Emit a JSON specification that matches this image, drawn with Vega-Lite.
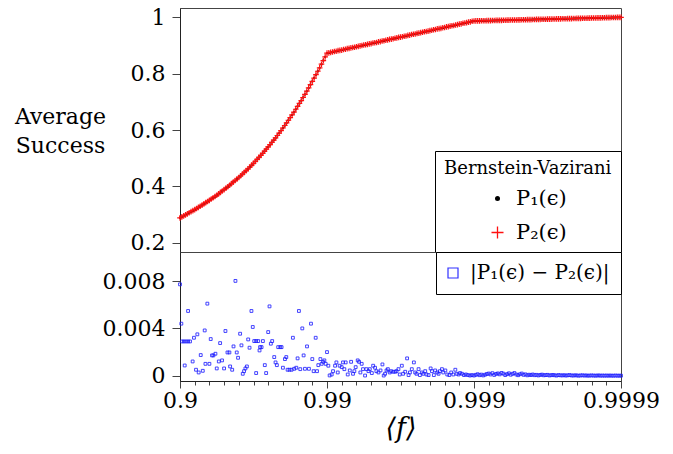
{
"$schema": "https://vega.github.io/schema/vega-lite/v6.json",
"autosize": {"type": "none"},
"padding": {"left": 180, "top": 8, "right": 493, "bottom": 446},
"background": "white",
"bounds": "flush",
"config": {
  "font": "DejaVu Serif",
  "view": {"stroke": "#444", "strokeWidth": 1},
  "axis": {"labelFont": "DejaVu Serif", "titleFont": "DejaVu Serif", "labelFontSize": 22, "labelColor": "black", "domainColor": "#222", "tickColor": "#444", "grid": false, "titleFontWeight": "normal", "titleColor": "black", "labelFlush": false, "labelOverlap": false, "labelBound": false},
  "legend": {"labelFont": "DejaVu Serif", "titleFont": "DejaVu Serif", "labelColor": "black", "titleColor": "black", "titleFontWeight": "normal"}
},
"datasets": {
"curve": [
{"k":1,"p1":0.289,"p2":0.289},{"k":1.0125,"p1":0.2925,"p2":0.2925},{"k":1.025,"p1":0.296,"p2":0.296},{"k":1.0375,"p1":0.2995,"p2":0.2995},{"k":1.05,"p1":0.303,"p2":0.303},{"k":1.0625,"p1":0.307,"p2":0.307},{"k":1.075,"p1":0.311,"p2":0.311},{"k":1.0875,"p1":0.3145,"p2":0.3145},{"k":1.1,"p1":0.318,"p2":0.318},{"k":1.1125,"p1":0.322,"p2":0.322},{"k":1.125,"p1":0.326,"p2":0.326},{"k":1.1375,"p1":0.33,"p2":0.33},{"k":1.15,"p1":0.334,"p2":0.334},{"k":1.1625,"p1":0.3385,"p2":0.3385},{"k":1.175,"p1":0.343,"p2":0.343},{"k":1.1875,"p1":0.347,"p2":0.347},{"k":1.2,"p1":0.351,"p2":0.351},{"k":1.2125,"p1":0.3555,"p2":0.3555},{"k":1.225,"p1":0.36,"p2":0.36},{"k":1.2375,"p1":0.3645,"p2":0.3645},{"k":1.25,"p1":0.369,"p2":0.369},{"k":1.2625,"p1":0.374,"p2":0.374},{"k":1.275,"p1":0.379,"p2":0.379},{"k":1.2875,"p1":0.384,"p2":0.384},{"k":1.3,"p1":0.389,"p2":0.389},{"k":1.3125,"p1":0.394,"p2":0.394},{"k":1.325,"p1":0.399,"p2":0.399},{"k":1.3375,"p1":0.4045,"p2":0.4045},{"k":1.35,"p1":0.41,"p2":0.41},{"k":1.3625,"p1":0.4155,"p2":0.4155},{"k":1.375,"p1":0.421,"p2":0.421},{"k":1.3875,"p1":0.4265,"p2":0.4265},{"k":1.4,"p1":0.432,"p2":0.432},{"k":1.4125,"p1":0.438,"p2":0.438},{"k":1.425,"p1":0.444,"p2":0.444},{"k":1.4375,"p1":0.45,"p2":0.45},{"k":1.45,"p1":0.456,"p2":0.456},{"k":1.4625,"p1":0.4625,"p2":0.4625},{"k":1.475,"p1":0.469,"p2":0.469},{"k":1.4875,"p1":0.4755,"p2":0.4755},{"k":1.5,"p1":0.482,"p2":0.482},{"k":1.5125,"p1":0.489,"p2":0.489},{"k":1.525,"p1":0.496,"p2":0.496},{"k":1.5375,"p1":0.503,"p2":0.503},{"k":1.55,"p1":0.51,"p2":0.51},{"k":1.5625,"p1":0.5175,"p2":0.5175},{"k":1.575,"p1":0.525,"p2":0.525},{"k":1.5875,"p1":0.5325,"p2":0.5325},{"k":1.6,"p1":0.54,"p2":0.54},{"k":1.6125,"p1":0.548,"p2":0.548},{"k":1.625,"p1":0.556,"p2":0.556},{"k":1.6375,"p1":0.564,"p2":0.564},{"k":1.65,"p1":0.572,"p2":0.572},{"k":1.6625,"p1":0.5805,"p2":0.5805},{"k":1.675,"p1":0.589,"p2":0.589},{"k":1.6875,"p1":0.598,"p2":0.598},{"k":1.7,"p1":0.607,"p2":0.607},{"k":1.7125,"p1":0.616,"p2":0.616},{"k":1.725,"p1":0.625,"p2":0.625},{"k":1.7375,"p1":0.6345,"p2":0.6345},{"k":1.75,"p1":0.644,"p2":0.644},{"k":1.7625,"p1":0.6535,"p2":0.6535},{"k":1.775,"p1":0.663,"p2":0.663},{"k":1.7875,"p1":0.6735,"p2":0.6735},{"k":1.8,"p1":0.684,"p2":0.684},{"k":1.8125,"p1":0.694,"p2":0.694},{"k":1.825,"p1":0.704,"p2":0.704},{"k":1.8375,"p1":0.715,"p2":0.715},{"k":1.85,"p1":0.726,"p2":0.726},{"k":1.8625,"p1":0.7375,"p2":0.7375},{"k":1.875,"p1":0.749,"p2":0.749},{"k":1.8875,"p1":0.7605,"p2":0.7605},{"k":1.9,"p1":0.772,"p2":0.772},{"k":1.9125,"p1":0.784,"p2":0.784},{"k":1.925,"p1":0.796,"p2":0.796},{"k":1.9375,"p1":0.808,"p2":0.808},{"k":1.95,"p1":0.82,"p2":0.82},{"k":1.9625,"p1":0.833,"p2":0.833},{"k":1.975,"p1":0.846,"p2":0.846},{"k":1.9875,"p1":0.859,"p2":0.859},{"k":2,"p1":0.872,"p2":0.872},
{"k":2.0125,"p1":0.873,"p2":0.873},{"k":2.025,"p1":0.875,"p2":0.875},{"k":2.0375,"p1":0.876,"p2":0.876},{"k":2.05,"p1":0.878,"p2":0.878},{"k":2.0625,"p1":0.879,"p2":0.879},{"k":2.075,"p1":0.881,"p2":0.881},{"k":2.0875,"p1":0.882,"p2":0.882},{"k":2.1,"p1":0.883,"p2":0.883},{"k":2.1125,"p1":0.885,"p2":0.885},{"k":2.125,"p1":0.886,"p2":0.886},{"k":2.1375,"p1":0.888,"p2":0.888},{"k":2.15,"p1":0.889,"p2":0.889},{"k":2.1625,"p1":0.891,"p2":0.891},{"k":2.175,"p1":0.892,"p2":0.892},{"k":2.1875,"p1":0.893,"p2":0.893},{"k":2.2,"p1":0.895,"p2":0.895},{"k":2.2125,"p1":0.896,"p2":0.896},{"k":2.225,"p1":0.898,"p2":0.898},{"k":2.2375,"p1":0.899,"p2":0.899},{"k":2.25,"p1":0.901,"p2":0.901},{"k":2.2625,"p1":0.902,"p2":0.902},{"k":2.275,"p1":0.903,"p2":0.903},{"k":2.2875,"p1":0.905,"p2":0.905},{"k":2.3,"p1":0.906,"p2":0.906},{"k":2.3125,"p1":0.908,"p2":0.908},{"k":2.325,"p1":0.909,"p2":0.909},{"k":2.3375,"p1":0.91,"p2":0.91},{"k":2.35,"p1":0.912,"p2":0.912},{"k":2.3625,"p1":0.913,"p2":0.913},{"k":2.375,"p1":0.915,"p2":0.915},{"k":2.3875,"p1":0.916,"p2":0.916},{"k":2.4,"p1":0.918,"p2":0.918},{"k":2.4125,"p1":0.919,"p2":0.919},{"k":2.425,"p1":0.921,"p2":0.921},{"k":2.4375,"p1":0.922,"p2":0.922},{"k":2.45,"p1":0.923,"p2":0.923},{"k":2.4625,"p1":0.925,"p2":0.925},{"k":2.475,"p1":0.926,"p2":0.926},{"k":2.4875,"p1":0.928,"p2":0.928},{"k":2.5,"p1":0.929,"p2":0.929},{"k":2.5125,"p1":0.93,"p2":0.93},{"k":2.525,"p1":0.932,"p2":0.932},{"k":2.5375,"p1":0.933,"p2":0.933},{"k":2.55,"p1":0.935,"p2":0.935},{"k":2.5625,"p1":0.936,"p2":0.936},{"k":2.575,"p1":0.938,"p2":0.938},{"k":2.5875,"p1":0.939,"p2":0.939},{"k":2.6,"p1":0.94,"p2":0.94},{"k":2.6125,"p1":0.942,"p2":0.942},{"k":2.625,"p1":0.943,"p2":0.943},{"k":2.6375,"p1":0.945,"p2":0.945},{"k":2.65,"p1":0.946,"p2":0.946},{"k":2.6625,"p1":0.948,"p2":0.948},{"k":2.675,"p1":0.949,"p2":0.949},{"k":2.6875,"p1":0.95,"p2":0.95},{"k":2.7,"p1":0.952,"p2":0.952},{"k":2.7125,"p1":0.953,"p2":0.953},{"k":2.725,"p1":0.955,"p2":0.955},{"k":2.7375,"p1":0.956,"p2":0.956},{"k":2.75,"p1":0.958,"p2":0.958},{"k":2.7625,"p1":0.959,"p2":0.959},{"k":2.775,"p1":0.96,"p2":0.96},{"k":2.7875,"p1":0.962,"p2":0.962},{"k":2.8,"p1":0.963,"p2":0.963},{"k":2.8125,"p1":0.965,"p2":0.965},{"k":2.825,"p1":0.966,"p2":0.966},{"k":2.8375,"p1":0.968,"p2":0.968},{"k":2.85,"p1":0.969,"p2":0.969},{"k":2.8625,"p1":0.97,"p2":0.97},{"k":2.875,"p1":0.972,"p2":0.972},{"k":2.8875,"p1":0.973,"p2":0.973},{"k":2.9,"p1":0.975,"p2":0.975},{"k":2.9125,"p1":0.976,"p2":0.976},{"k":2.925,"p1":0.978,"p2":0.978},{"k":2.9375,"p1":0.979,"p2":0.979},{"k":2.95,"p1":0.98,"p2":0.98},{"k":2.9625,"p1":0.982,"p2":0.982},{"k":2.975,"p1":0.983,"p2":0.983},{"k":2.9875,"p1":0.985,"p2":0.985},{"k":3,"p1":0.986,"p2":0.986},
{"k":3.0125,"p1":0.9862,"p2":0.9862},{"k":3.025,"p1":0.9863,"p2":0.9863},{"k":3.0375,"p1":0.9865,"p2":0.9865},{"k":3.05,"p1":0.9867,"p2":0.9867},{"k":3.0625,"p1":0.9868,"p2":0.9868},{"k":3.075,"p1":0.987,"p2":0.987},{"k":3.0875,"p1":0.9872,"p2":0.9872},{"k":3.1,"p1":0.9873,"p2":0.9873},{"k":3.1125,"p1":0.9875,"p2":0.9875},{"k":3.125,"p1":0.9876,"p2":0.9876},{"k":3.1375,"p1":0.9878,"p2":0.9878},{"k":3.15,"p1":0.988,"p2":0.988},{"k":3.1625,"p1":0.9881,"p2":0.9881},{"k":3.175,"p1":0.9883,"p2":0.9883},{"k":3.1875,"p1":0.9884,"p2":0.9884},{"k":3.2,"p1":0.9886,"p2":0.9886},{"k":3.2125,"p1":0.9888,"p2":0.9888},{"k":3.225,"p1":0.9889,"p2":0.9889},{"k":3.2375,"p1":0.9891,"p2":0.9891},{"k":3.25,"p1":0.9893,"p2":0.9893},{"k":3.2625,"p1":0.9894,"p2":0.9894},{"k":3.275,"p1":0.9896,"p2":0.9896},{"k":3.2875,"p1":0.9897,"p2":0.9897},{"k":3.3,"p1":0.9899,"p2":0.9899},{"k":3.3125,"p1":0.9901,"p2":0.9901},{"k":3.325,"p1":0.9902,"p2":0.9902},{"k":3.3375,"p1":0.9904,"p2":0.9904},{"k":3.35,"p1":0.9905,"p2":0.9905},{"k":3.3625,"p1":0.9907,"p2":0.9907},{"k":3.375,"p1":0.9909,"p2":0.9909},{"k":3.3875,"p1":0.991,"p2":0.991},{"k":3.4,"p1":0.9912,"p2":0.9912},{"k":3.4125,"p1":0.9914,"p2":0.9914},{"k":3.425,"p1":0.9915,"p2":0.9915},{"k":3.4375,"p1":0.9917,"p2":0.9917},{"k":3.45,"p1":0.9918,"p2":0.9918},{"k":3.4625,"p1":0.992,"p2":0.992},{"k":3.475,"p1":0.9922,"p2":0.9922},{"k":3.4875,"p1":0.9923,"p2":0.9923},{"k":3.5,"p1":0.9925,"p2":0.9925},{"k":3.5125,"p1":0.9927,"p2":0.9927},{"k":3.525,"p1":0.9928,"p2":0.9928},{"k":3.5375,"p1":0.993,"p2":0.993},{"k":3.55,"p1":0.9931,"p2":0.9931},{"k":3.5625,"p1":0.9933,"p2":0.9933},{"k":3.575,"p1":0.9935,"p2":0.9935},{"k":3.5875,"p1":0.9936,"p2":0.9936},{"k":3.6,"p1":0.9938,"p2":0.9938},{"k":3.6125,"p1":0.994,"p2":0.994},{"k":3.625,"p1":0.9941,"p2":0.9941},{"k":3.6375,"p1":0.9943,"p2":0.9943},{"k":3.65,"p1":0.9944,"p2":0.9944},{"k":3.6625,"p1":0.9946,"p2":0.9946},{"k":3.675,"p1":0.9948,"p2":0.9948},{"k":3.6875,"p1":0.9949,"p2":0.9949},{"k":3.7,"p1":0.9951,"p2":0.9951},{"k":3.7125,"p1":0.9953,"p2":0.9953},{"k":3.725,"p1":0.9954,"p2":0.9954},{"k":3.7375,"p1":0.9956,"p2":0.9956},{"k":3.75,"p1":0.9957,"p2":0.9957},{"k":3.7625,"p1":0.9959,"p2":0.9959},{"k":3.775,"p1":0.9961,"p2":0.9961},{"k":3.7875,"p1":0.9962,"p2":0.9962},{"k":3.8,"p1":0.9964,"p2":0.9964},{"k":3.8125,"p1":0.9966,"p2":0.9966},{"k":3.825,"p1":0.9967,"p2":0.9967},{"k":3.8375,"p1":0.9969,"p2":0.9969},{"k":3.85,"p1":0.997,"p2":0.997},{"k":3.8625,"p1":0.9972,"p2":0.9972},{"k":3.875,"p1":0.9974,"p2":0.9974},{"k":3.8875,"p1":0.9975,"p2":0.9975},{"k":3.9,"p1":0.9977,"p2":0.9977},{"k":3.9125,"p1":0.9979,"p2":0.9979},{"k":3.925,"p1":0.998,"p2":0.998},{"k":3.9375,"p1":0.9982,"p2":0.9982},{"k":3.95,"p1":0.9983,"p2":0.9983},{"k":3.9625,"p1":0.9985,"p2":0.9985},{"k":3.975,"p1":0.9987,"p2":0.9987},{"k":3.9875,"p1":0.9988,"p2":0.9988},{"k":4,"p1":0.999,"p2":0.999}
],
"diff": [
{"k":1.000,"d":0.00772},{"k":1.009,"d":0.0044},{"k":1.014,"d":0.0029},{"k":1.027,"d":0.0029},{"k":1.041,"d":0.0029},{"k":1.055,"d":0.0029},{"k":1.068,"d":0.0029},{"k":1.032,"d":0.00087},{"k":1.055,"d":0.00547},{"k":1.086,"d":0.00121},{"k":1.095,"d":0.00321},{"k":1.109,"d":0.00051},{"k":1.118,"d":0.0035},{"k":1.127,"d":0.00028},{"k":1.141,"d":0.00175},{"k":1.155,"d":0.00042},{"k":1.168,"d":0.00383},{"k":1.173,"d":0.00101},{"k":1.2,"d":0.00101},{"k":1.186,"d":0.00609},{"k":1.209,"d":0.0031},{"k":1.218,"d":0.00172},{"k":1.227,"d":0.00172},{"k":1.241,"d":0.00186},{"k":1.25,"d":0.00062},{"k":1.264,"d":0.00121},{"k":1.273,"d":0.00276},{"k":1.286,"d":0.0013},{"k":1.3,"d":0.00062},{"k":1.309,"d":0.00378},{"k":1.323,"d":0.00197},{"k":1.336,"d":0.00197},{"k":1.341,"d":0.00079},{"k":1.355,"d":0.00051},{"k":1.364,"d":0.00248},{"k":1.377,"d":0.00801},{"k":1.386,"d":0.00197},{"k":1.395,"d":0.00152},{"k":1.409,"d":0.00355},{"k":1.418,"d":0.00257},{"k":1.427,"d":0.00017},{"k":1.436,"d":0.00039},{"k":1.445,"d":0.00062},{"k":1.455,"d":0.00079},{"k":1.464,"d":0.00307},{"k":1.473,"d":0.00237},{"k":1.486,"d":0.00547},{"k":1.495,"d":0.00412},{"k":1.505,"d":0.00293},{"k":1.518,"d":0.00293},{"k":1.532,"d":0.00293},{"k":1.545,"d":0.00242},{"k":1.555,"d":0.00242},{"k":1.564,"d":0.00293},{"k":1.518,"d":0.00023},{"k":1.541,"d":0.00214},{"k":1.577,"d":0.0009},{"k":1.586,"d":0.00023},{"k":1.6,"d":0.00369},{"k":1.609,"d":0.00586},{"k":1.618,"d":0.00271},{"k":1.627,"d":0.00293},{"k":1.641,"d":0.00158},{"k":1.65,"d":0.00113},{"k":1.659,"d":0.0009},{"k":1.668,"d":0.00242},{"k":1.682,"d":0.00242},{"k":1.691,"d":0.00242},{"k":1.7,"d":0.00068},{"k":1.714,"d":0.00141},{"k":1.723,"d":0.00158},{"k":1.732,"d":0.00051},{"k":1.745,"d":0.00051},{"k":1.759,"d":0.00051},{"k":1.768,"d":0.00321},{"k":1.777,"d":0.00059},{"k":1.791,"d":0.00068},{"k":1.8,"d":0.00147},{"k":1.809,"d":0.00547},{"k":1.818,"d":0.00056},{"k":1.832,"d":0.004},{"k":1.841,"d":0.00172},{"k":1.85,"d":0.00059},{"k":1.864,"d":0.00248},{"k":1.877,"d":0.00059},{"k":1.891,"d":0.0044},{"k":1.9,"d":0.00141},{"k":1.909,"d":0.00039},{"k":1.923,"d":0.00321},{"k":1.932,"d":0.00039},{"k":1.941,"d":0.0009},{"k":1.955,"d":0.00141},{"k":1.964,"d":0.00101},{"k":1.973,"d":0.00118},{"k":1.982,"d":0.0013},{"k":1.991,"d":0.00101},{"k":2.0,"d":0.002},
{"k":2.009,"d":0.00085},{"k":2.018,"d":0.00003},{"k":2.032,"d":0.00011},{"k":2.041,"d":0.00039},{"k":2.055,"d":0.00085},{"k":2.064,"d":0.00113},{"k":2.073,"d":0.00028},{"k":2.086,"d":0.00085},{"k":2.1,"d":0.00073},{"k":2.109,"d":0.00113},{"k":2.118,"d":0.00056},{"k":2.127,"d":0.00113},{"k":2.141,"d":0.00011},{"k":2.155,"d":0.00045},{"k":2.164,"d":0.00118},{"k":2.177,"d":0.00017},{"k":2.186,"d":0.00039},{"k":2.195,"d":0.00073},{"k":2.209,"d":0.0013},{"k":2.218,"d":0.00118},{"k":2.227,"d":0.00028},{"k":2.236,"d":0.00101},{"k":2.245,"d":0.00056},{"k":2.259,"d":0.00002},{"k":2.268,"d":0.00056},{"k":2.282,"d":0.00039},{"k":2.291,"d":0.00056},{"k":2.305,"d":0.00023},{"k":2.314,"d":0.00085},{"k":2.327,"d":0.00068},{"k":2.336,"d":0.00039},{"k":2.35,"d":0.00028},{"k":2.364,"d":0.00045},{"k":2.377,"d":0.00096},{"k":2.386,"d":0.00002},{"k":2.395,"d":0.00017},{"k":2.405,"d":0.00045},{"k":2.414,"d":0.00056},{"k":2.427,"d":0.00028},{"k":2.436,"d":0.00039},{"k":2.45,"d":0.00034},{"k":2.464,"d":0.00034},{"k":2.473,"d":0.00039},{"k":2.486,"d":0.00056},{"k":2.495,"d":0.00011},{"k":2.509,"d":0.00085},{"k":2.518,"d":0.00017},{"k":2.532,"d":0.00034},{"k":2.545,"d":0.00147},{"k":2.555,"d":0.00006},{"k":2.564,"d":0.00028},{"k":2.577,"d":0.00056},{"k":2.591,"d":0.00113},{"k":2.6,"d":0.00028},{"k":2.609,"d":0.00017},{"k":2.623,"d":0.00056},{"k":2.632,"d":0.00006},{"k":2.645,"d":0.00028},{"k":2.655,"d":0.00017},{"k":2.668,"d":0.00039},{"k":2.677,"d":0.00011},{"k":2.691,"d":0.00006},{"k":2.705,"d":0.00062},{"k":2.714,"d":0.00039},{"k":2.727,"d":0.00006},{"k":2.736,"d":0.00045},{"k":2.75,"d":0.00028},{"k":2.759,"d":0.00017},{"k":2.768,"d":0.00039},{"k":2.782,"d":0.00056},{"k":2.791,"d":0.00028},{"k":2.805,"d":0.00045},{"k":2.818,"d":0.00011},{"k":2.832,"d":0.00006},{"k":2.845,"d":0.00028},{"k":2.859,"d":0.00011},{"k":2.873,"d":0.00051},{"k":2.882,"d":0.00017},{"k":2.895,"d":0.00011},{"k":2.905,"d":0.00023},{"k":2.918,"d":0.00017},{"k":2.932,"d":0.00006},{"k":2.945,"d":0.00011},{"k":2.959,"d":0.00006},{"k":2.973,"d":0.00002},{"k":2.986,"d":0.00006},{"k":3.0,"d":0.00002},
{"k":3.0125,"d":0.00008},{"k":3.025,"d":0.00013},{"k":3.0375,"d":0.00005},{"k":3.05,"d":0.0001},{"k":3.0625,"d":0.00003},{"k":3.075,"d":0.00009},{"k":3.0875,"d":0.00015},{"k":3.1,"d":0.00019},{"k":3.1125,"d":0.00011},{"k":3.125,"d":0.00022},{"k":3.1375,"d":0.00007},{"k":3.15,"d":0.00016},{"k":3.1625,"d":0.0002},{"k":3.175,"d":0.00012},{"k":3.1875,"d":0.00024},{"k":3.2,"d":0.00018},{"k":3.2125,"d":0.00006},{"k":3.225,"d":0.00014},{"k":3.2375,"d":0.00021},{"k":3.25,"d":0.00009},{"k":3.2625,"d":0.00017},{"k":3.275,"d":0.00023},{"k":3.2875,"d":0.00011},{"k":3.3,"d":0.00005},{"k":3.3125,"d":0.00013},{"k":3.325,"d":0.00019},{"k":3.3375,"d":0.00008},{"k":3.35,"d":0.00012},{"k":3.3625,"d":0.00004},{"k":3.375,"d":0.00009},{"k":3.3875,"d":0.00006},{"k":3.4,"d":0.00011},{"k":3.4125,"d":0.00005},{"k":3.425,"d":0.00008},{"k":3.4375,"d":0.00003},{"k":3.45,"d":0.00007},{"k":3.4625,"d":0.0001},{"k":3.475,"d":0.00004},{"k":3.4875,"d":0.00006},{"k":3.5,"d":0.00008},{"k":3.5125,"d":0.00003},{"k":3.525,"d":0.00005},{"k":3.5375,"d":0.00007},{"k":3.55,"d":0.00004},{"k":3.5625,"d":0.00002},{"k":3.575,"d":0.00006},{"k":3.5875,"d":0.00004},{"k":3.6,"d":0.00003},{"k":3.6125,"d":0.00005},{"k":3.625,"d":0.00002},{"k":3.6375,"d":0.00004},{"k":3.65,"d":0.00006},{"k":3.6625,"d":0.00003},{"k":3.675,"d":0.00002},{"k":3.6875,"d":0.00004},{"k":3.7,"d":0.00003},{"k":3.7125,"d":0.00001},{"k":3.725,"d":0.00003},{"k":3.7375,"d":0.00004},{"k":3.75,"d":0.00002},{"k":3.7625,"d":0.00003},{"k":3.775,"d":0.00001},{"k":3.7875,"d":0.00002},{"k":3.8,"d":0.00003},{"k":3.8125,"d":0.00002},{"k":3.825,"d":0.00001},{"k":3.8375,"d":0.00002},{"k":3.85,"d":0.00003},{"k":3.8625,"d":0.00001},{"k":3.875,"d":0.00002},{"k":3.8875,"d":0.00001},{"k":3.9,"d":0.00002},{"k":3.9125,"d":0.00001},{"k":3.925,"d":0.00002},{"k":3.9375,"d":0.00001},{"k":3.95,"d":0.00001},{"k":3.9625,"d":0.00002},{"k":3.975,"d":0.00001},{"k":3.9875,"d":0.00001},{"k":4.0,"d":0.00001}
]
},
"spacing": 0,
"resolve": {"scale": {"x": "independent", "y": "independent", "fill": "independent", "stroke": "independent", "shape": "independent"}, "legend": {"fill": "independent", "stroke": "independent", "shape": "independent"}},
"vconcat": [
{
  "width": 441, "height": 244,
  "data": {"name": "curve"},
  "transform": [{"fold": ["p1", "p2"], "as": ["series", "value"]}],
  "mark": {"type": "point", "size": 5.5, "strokeWidth": 1.2, "opacity": 1},
  "encoding": {
    "x": {"field": "k", "type": "quantitative", "scale": {"domain": [1, 4], "nice": false, "zero": false}, "axis": null},
    "y": {"field": "value", "type": "quantitative", "scale": {"domain": [0.168, 1.032], "nice": false, "zero": false},
      "axis": {"values": [0.2, 0.4, 0.6, 0.8, 1], "format": "~g", "tickSize": 8, "labelPadding": 7, "title": ["Average", "Success"], "titleAngle": 0, "titleAlign": "center", "titleBaseline": "alphabetic", "titleX": -120, "titleY": 115, "titleFontSize": 22, "titleLineHeight": 29}},
    "shape": {"field": "series", "type": "nominal", "scale": {"domain": ["p1", "p2"], "range": ["circle", "M-2.4,0L2.4,0M0,-2.4L0,2.4"]},
      "legend": {"title": "Bernstein-Vazirani", "orient": "bottom-right", "offset": 0, "padding": 9, "strokeColor": "black", "fillColor": "white", "titleFontSize": 18, "titlePadding": 10, "labelFontSize": 21, "labelExpr": "datum.value == 'p1' ? 'P₁(ϵ)' : 'P₂(ϵ)'", "rowPadding": 12, "symbolSize": 25, "symbolStrokeWidth": 1.3, "symbolOffset": 43, "labelOffset": 8}},
    "fill": {"field": "series", "type": "nominal", "scale": {"domain": ["p1", "p2"], "range": ["black", "transparent"]},
      "legend": {"title": "Bernstein-Vazirani", "orient": "bottom-right", "offset": 0, "padding": 9, "strokeColor": "black", "fillColor": "white", "titleFontSize": 18, "titlePadding": 10, "labelFontSize": 21, "labelExpr": "datum.value == 'p1' ? 'P₁(ϵ)' : 'P₂(ϵ)'", "rowPadding": 12, "symbolSize": 25, "symbolStrokeWidth": 1.3, "symbolOffset": 43, "labelOffset": 8}},
    "stroke": {"field": "series", "type": "nominal", "scale": {"domain": ["p1", "p2"], "range": ["transparent", "#ff1010"]},
      "legend": {"title": "Bernstein-Vazirani", "orient": "bottom-right", "offset": 0, "padding": 9, "strokeColor": "black", "fillColor": "white", "titleFontSize": 18, "titlePadding": 10, "labelFontSize": 21, "labelExpr": "datum.value == 'p1' ? 'P₁(ϵ)' : 'P₂(ϵ)'", "rowPadding": 12, "symbolSize": 25, "symbolStrokeWidth": 1.3, "symbolOffset": 43, "labelOffset": 8}}
  }
},
{
  "width": 441, "height": 129,
  "data": {"name": "diff"},
  "mark": {"type": "point", "shape": "square", "filled": false, "size": 8, "strokeWidth": 0.9, "opacity": 0.9},
  "encoding": {
    "x": {"field": "k", "type": "quantitative", "scale": {"domain": [1, 4], "nice": false, "zero": false},
      "axis": {"values": [1,1.1,1.2,1.3,1.4,1.5,1.6,1.7,1.8,1.9,2,2.1,2.2,2.3,2.4,2.5,2.6,2.7,2.8,2.9,3,3.1,3.2,3.3,3.4,3.5,3.6,3.7,3.8,3.9,4],
        "labelExpr": "datum.value === 1 ? '0.9' : datum.value === 2 ? '0.99' : datum.value === 3 ? '0.999' : datum.value === 4 ? '0.9999' : ''",
        "tickSize": {"condition": {"test": "datum.value % 1 === 0", "value": 7}, "value": 4},
        "labelPadding": 2, "title": "⟨f⟩", "titleFontSize": 27, "titleFontStyle": "italic", "titlePadding": 4}},
    "y": {"field": "d", "type": "quantitative", "scale": {"domain": [-0.00044, 0.01045], "nice": false, "zero": false},
      "axis": {"values": [0, 0.004, 0.008], "format": "~g", "tickSize": 8, "labelPadding": 7, "title": null}},
    "stroke": {"datum": "|P₁(ϵ) − P₂(ϵ)|", "type": "nominal", "scale": {"range": ["#1a1aff"]},
      "legend": {"title": null, "orient": "top-right", "offset": 0, "padding": 11, "strokeColor": "black", "fillColor": "white", "labelFontSize": 20, "symbolType": "square", "symbolSize": 100, "symbolStrokeWidth": 1.2, "symbolFillColor": "transparent", "symbolOffset": -4, "labelOffset": 7}}
  }
}
]
}
